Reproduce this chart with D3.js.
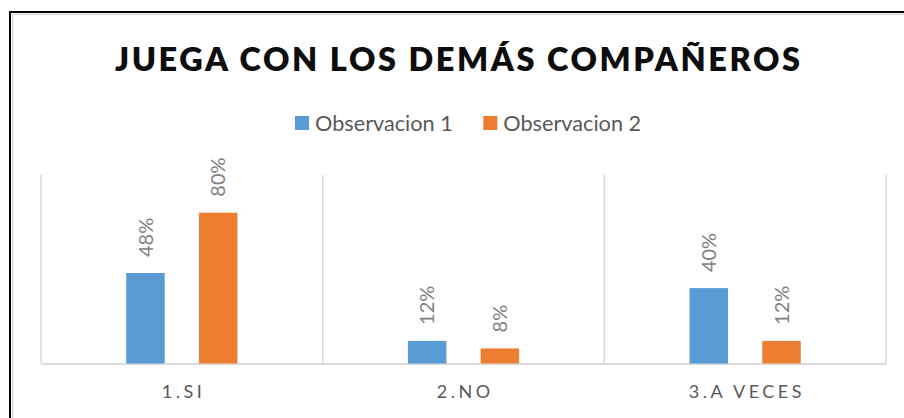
<!DOCTYPE html>
<html><head><meta charset="utf-8">
<script src="https://cdn.jsdelivr.net/npm/d3@7"></script>
<style>html,body{margin:0;padding:0;background:#fff;overflow:hidden}</style>
</head><body>
<svg id="c" width="904" height="418"></svg>
<script>
const title = "JUEGA CON LOS DEMÁS COMPAÑEROS";
const categories = ["1.SI", "2.NO", "3.A VECES"];
const seriesNames = ["Observacion 1", "Observacion 2"];
const obs1 = [0.48, 0.12, 0.40];
const obs2 = [0.80, 0.08, 0.12];
const colors = ["#5b9bd5", "#ed7d31"];

const svg = d3.select("#c");
const FONT = "Lato, 'Open Sans', sans-serif";

// frame
svg.append("rect").attr("x", 10).attr("y", 12).attr("width", 1000).attr("height", 1000)
  .attr("fill", "none").attr("stroke", "#000").attr("stroke-width", 2);
svg.append("rect").attr("x", 12.5).attr("y", 14.5).attr("width", 1000).attr("height", 1000)
  .attr("fill", "none").attr("stroke", "#d4d4d4").attr("stroke-width", 1.2);

// title
svg.append("text").attr("x", 457.5).attr("y", 71).attr("text-anchor", "middle")
  .attr("font-family", FONT).attr("font-weight", 800).attr("font-size", 32.5)
  .attr("fill", "#0d0d0d").attr("textLength", 685).attr("lengthAdjust", "spacing")
  .text(title);

const plot = {left: 41, right: 886, top: 175, bottom: 363.5};
const x0 = d3.scaleBand().domain(categories).range([plot.left, plot.right]).padding(0);
const x1 = d3.scaleBand().domain(seriesNames)
  .range([x0.bandwidth() * 0.3026, x0.bandwidth() * 0.6974]).paddingInner(0.471).paddingOuter(0);
const y = d3.scaleLinear().domain([0, 1]).range([plot.bottom, plot.top]);

// vertical grid lines at category boundaries
const bounds = categories.map(c => x0(c)).concat([plot.right]);
svg.append("g").selectAll("line").data(bounds).join("line")
  .attr("x1", d => d).attr("x2", d => d).attr("y1", plot.top).attr("y2", plot.bottom)
  .attr("stroke", "#d9d9d9").attr("stroke-width", 1.5);

// baseline axis
const xAxis = d3.axisBottom(x0).tickSize(0).tickPadding(0);
const ax = svg.append("g").attr("transform", `translate(0,${plot.bottom})`).call(xAxis);
ax.select(".domain").attr("stroke", "#d0d0d0").attr("stroke-width", 1.5);
ax.selectAll(".tick text").attr("font-family", FONT).attr("font-size", 18)
  .attr("fill", "#595959").attr("letter-spacing", "3.5px")
  .attr("dx", "1.75px").attr("dy", 0).attr("y", 34.5).style("dominant-baseline", "auto");

// bars
const data = categories.map((c, i) => ({cat: c, vals: [obs1[i], obs2[i]]}));
const g = svg.append("g");
data.forEach(d => {
  d.vals.forEach((v, j) => {
    const s = seriesNames[j];
    const bx = x0(d.cat) + x1(s);
    g.append("rect").attr("x", bx).attr("y", y(v)).attr("width", x1.bandwidth())
      .attr("height", y(0) - y(v)).attr("fill", colors[j]);
    const cx = bx + x1.bandwidth() / 2;
    const ly = y(v) - 16;
    g.append("text").attr("transform", `translate(${cx},${ly}) rotate(-90)`)
      .attr("dy", "0.36em").attr("font-family", FONT).attr("font-size", 20)
      .attr("fill", "#7f7f7f").text(d3.format(".0%")(v));
  });
});

// legend
const legX = [295, 483.3];
const leg = svg.append("g");
seriesNames.forEach((s, j) => {
  leg.append("rect").attr("x", legX[j]).attr("y", 116).attr("width", 14).attr("height", 14)
    .attr("fill", colors[j]);
  leg.append("text").attr("x", legX[j] + 20).attr("y", 130.5).attr("font-family", FONT)
    .attr("font-size", 21.7).attr("fill", "#595959").text(s);
});
</script>
</body></html>
